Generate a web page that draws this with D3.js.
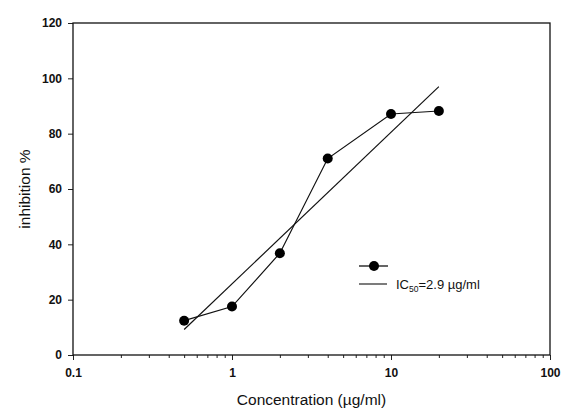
<!DOCTYPE html>
<html>
<head>
<meta charset="utf-8">
<script src="https://cdn.jsdelivr.net/npm/d3@7"></script>
<style>
  body { margin: 0; background: #fff; }
  svg { display: block; font-family: 'Liberation Sans', Arial, sans-serif; }
</style>
</head>
<body>
<svg width="563" height="412"></svg>
<script>
// measured points
const concentrations = [0.5, 1, 2, 4, 10, 20]
const inhibition = [12.4, 17.5, 36.8, 71, 87.1, 88.2]
// regression line end points
const fitX = [0.5, 20]
const fitY = [9.2, 97]
const xTicks = [0.1, 1, 10, 100]
const yTicks = [0, 20, 40, 60, 80, 100, 120]

const svg = d3.select('svg')
const margin = {top: 23, right: 13, bottom: 57, left: 73}
const width = +svg.attr('width') - margin.left - margin.right
const height = +svg.attr('height') - margin.top - margin.bottom

const x = d3.scaleLog().domain([0.1, 100]).range([0, width])
const y = d3.scaleLinear().domain([0, 120]).range([height, 0])

const g = svg.append('g')
  .attr('transform', 'translate(' + margin.left + ',' + margin.top + ')')

// minor log ticks
const minor = []
xTicks.slice(0, -1).forEach((d) => {
  for (let k = 2; k < 10; k++) minor.push(d * k)
})

g.append('g')
  .attr('transform', 'translate(0,' + height + ')')
  .call(d3.axisBottom(x).tickValues(minor).tickSize(3).tickFormat(''))
  .call((a) => a.select('.domain').remove())

g.append('g')
  .attr('class', 'axis axis--x')
  .attr('transform', 'translate(0,' + height + ')')
  .call(d3.axisBottom(x).tickValues(xTicks).tickSize(5).tickPadding(8).tickFormat((d) => String(d)))
  .call((a) => a.select('.domain').remove())

g.append('g')
  .attr('class', 'axis axis--y')
  .call(d3.axisLeft(y).tickValues(yTicks).tickSize(5).tickPadding(6))
  .call((a) => a.select('.domain').remove())

g.selectAll('.tick text')
  .attr('font-size', 12)
  .attr('font-weight', 'bold')
  .attr('fill', '#111')
  .attr('font-family', "'Liberation Sans', Arial, sans-serif")
g.selectAll('.tick line').attr('stroke', '#222')

// frame
g.append('rect')
  .attr('width', width)
  .attr('height', height)
  .attr('fill', 'none')
  .attr('stroke', '#111')
  .attr('stroke-width', 1.3)

// regression line
const fit = fitX.map((d, i) => [d, fitY[i]])
g.append('path')
  .datum(fit)
  .attr('fill', 'none')
  .attr('stroke', '#111')
  .attr('stroke-width', 1.2)
  .attr('d', d3.line().x((d) => x(d[0])).y((d) => y(d[1])))

// data line and markers
const pts = concentrations.map((d, i) => [d, inhibition[i]])
g.append('path')
  .datum(pts)
  .attr('fill', 'none')
  .attr('stroke', '#111')
  .attr('stroke-width', 1.2)
  .attr('d', d3.line().x((d) => x(d[0])).y((d) => y(d[1])))

g.selectAll('.dot')
  .data(pts)
  .enter().append('circle')
  .attr('class', 'dot')
  .attr('cx', (d) => x(d[0]))
  .attr('cy', (d) => y(d[1]))
  .attr('r', 5)
  .attr('fill', '#000')

// legend
const lg = svg.append('g').attr('transform', 'translate(359,266)')
lg.append('line').attr('x1', 0).attr('x2', 29).attr('y1', 0).attr('y2', 0)
  .attr('stroke', '#111').attr('stroke-width', 1.3)
lg.append('circle').attr('cx', 15).attr('cy', 0).attr('r', 5).attr('fill', '#000')
lg.append('line').attr('x1', 0).attr('x2', 28).attr('y1', 18).attr('y2', 18)
  .attr('stroke', '#111').attr('stroke-width', 1.1)
const lt = lg.append('text').attr('x', 37).attr('y', 23)
  .attr('font-size', 13).attr('fill', '#111')
lt.append('tspan').text('IC')
lt.append('tspan').attr('font-size', 8.5).attr('dy', 3).text('50')
lt.append('tspan').attr('dy', -3).text('=2.9 µg/ml')

// axis titles
svg.append('text')
  .attr('x', margin.left + width / 2)
  .attr('y', 405)
  .attr('text-anchor', 'middle')
  .attr('font-size', 15.5)
  .attr('fill', '#111')
  .text('Concentration (µg/ml)')

svg.append('text')
  .attr('transform', 'translate(30,189) rotate(-90)')
  .attr('text-anchor', 'middle')
  .attr('font-size', 15.5)
  .attr('fill', '#111')
  .text('inhibition %')
</script>
</body>
</html>
